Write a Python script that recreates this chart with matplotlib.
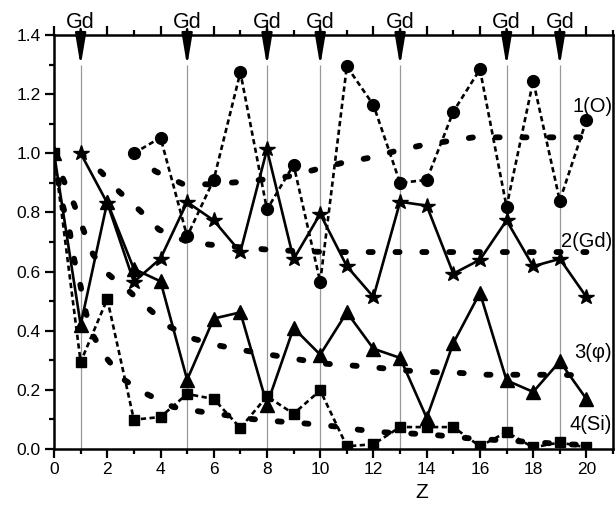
import matplotlib
matplotlib.use('Agg')
import matplotlib.pyplot as plt
from matplotlib.ticker import MultipleLocator

plt.rcParams['font.family'] = ['Liberation Sans', 'DejaVu Sans']

# data
x_o = list(range(3, 21))
y_o = [1.0, 1.053, 0.719, 0.911, 1.274, 0.81, 0.961, 0.565, 1.294, 1.163,
       0.90, 0.91, 1.141, 1.284, 0.819, 1.245, 0.84, 1.111]

x_gd = list(range(1, 21))
y_gd = [1.0, 0.832, 0.565, 0.644, 0.835, 0.773, 0.666, 1.013, 0.642, 0.795,
        0.618, 0.514, 0.836, 0.823, 0.593, 0.640, 0.773, 0.618, 0.643, 0.514]

x_phi = list(range(0, 21))
y_phi = [1.0, 0.42, 0.835, 0.609, 0.567, 0.234, 0.441, 0.462, 0.15, 0.409,
         0.319, 0.462, 0.339, 0.308, 0.105, 0.358, 0.528, 0.232, 0.193, 0.296, 0.169]

x_si = list(range(0, 21))
y_si = [1.0, 0.294, 0.507, 0.099, 0.108, 0.186, 0.169, 0.071, 0.178, 0.119,
        0.198, 0.009, 0.016, 0.074, 0.074, 0.074, 0.009, 0.057, 0.005, 0.022, 0.005]

# fitted curves (thick dotted)
fit_o_x = [3, 3.81, 4.82, 5.85, 6.83, 7.85, 8.82, 9.82, 10.8, 11.8, 12.76,
           13.76, 14.73, 15.76, 16.76, 17.77, 18.77, 19.8, 20]
fit_o_y = [1.0, 0.939, 0.897, 0.895, 0.902, 0.911, 0.922, 0.945, 0.967, 0.984,
           1.006, 1.026, 1.04, 1.054, 1.054, 1.054, 1.054, 1.054, 1.054]

fit_gd_x = [1, 1.79, 2.45, 3.23, 3.94, 4.98, 5.85, 6.9, 7.92, 8.98, 9.9,
            11, 12, 13, 14, 15, 16, 17, 18, 19, 20]
fit_gd_y = [1.0, 0.935, 0.87, 0.806, 0.742, 0.702, 0.691, 0.683, 0.675, 0.67,
            0.667, 0.666, 0.666, 0.666, 0.666, 0.666, 0.666, 0.666, 0.666, 0.666, 0.666]

fit_phi_x = [0, 0.35, 0.76, 1.1, 1.47, 2.05, 2.85, 3.6, 4.35, 5.27, 6.23, 7.23,
             8.23, 9.23, 10.23, 11.23, 12.23, 13.23, 14.23, 15.27, 16.27, 17.27,
             18.27, 19.3, 20]
fit_phi_y = [1.0, 0.911, 0.826, 0.742, 0.657, 0.59, 0.531, 0.471, 0.413, 0.372,
             0.349, 0.332, 0.317, 0.302, 0.288, 0.282, 0.274, 0.265, 0.26, 0.257,
             0.251, 0.251, 0.251, 0.25, 0.25]

fit_si_x = [0, 0.15, 0.34, 0.6, 0.76, 1.0, 1.2, 1.45, 2.0, 2.63, 3.45, 4.48,
            5.45, 6.48, 7.45, 8.45, 9.46, 10.48, 11.46, 12.46, 13.46, 14.46,
            15.46, 16.46, 17.46, 18.49, 19.49, 20]
fit_si_y = [1.0, 0.91, 0.82, 0.73, 0.64, 0.55, 0.46, 0.386, 0.304, 0.234, 0.187,
            0.142, 0.127, 0.114, 0.101, 0.093, 0.086, 0.077, 0.065, 0.056, 0.052,
            0.046, 0.037, 0.031, 0.026, 0.02, 0.015, 0.013]

gd_positions = [1, 5, 8, 10, 13, 17, 19]
series_labels = ['1(O)', '2(Gd)', '3(\u03c6)', '4(Si)']
label_y = [1.158, 0.702, 0.325, 0.082]

fig = plt.figure(figsize=(6.16, 5.05), dpi=100)
ax = fig.add_axes([0.0877, 0.111, 0.9075, 0.8196])

# grey guide lines at the Gd sites
ax.vlines(gd_positions, 0, 1.3, color='0.6', lw=0.9, zorder=1)

# fitted curves: thick round dots
fit_kw = dict(color='black', lw=4.2, dashes=(0.7, 3.9), dash_capstyle='round', zorder=2)
ax.plot(fit_o_x, fit_o_y, **fit_kw)
ax.plot(fit_gd_x, fit_gd_y, **fit_kw)
ax.plot(fit_phi_x, fit_phi_y, **fit_kw)
ax.plot(fit_si_x, fit_si_y, **fit_kw)

# data series
ax.plot(x_o, y_o, color='black', lw=1.9, dashes=(2.0, 1.3), marker='o', ms=8.5, zorder=3)
ax.plot(x_gd, y_gd, color='black', lw=1.9, marker='*', ms=11.5, zorder=3)
ax.plot(x_phi, y_phi, color='black', lw=1.9, marker='^', ms=9.5, zorder=3)
ax.plot(x_si, y_si, color='black', lw=1.9, dashes=(2.0, 1.3), marker='s', ms=7.5, zorder=3)

# Gd arrows above the plot
for xp in gd_positions:
    ax.annotate('', xy=(xp, 1.295), xytext=(xp, 1.42),
                arrowprops=dict(arrowstyle='-|>,head_length=0.95,head_width=0.16',
                                color='black', lw=1.8, shrinkA=0, shrinkB=0,
                                mutation_scale=20),
                annotation_clip=False, zorder=5)
    ax.text(xp, 1.425, 'Gd', ha='center', va='baseline', fontsize=15.5, clip_on=False)

for lab, yl in zip(series_labels, label_y):
    ax.text(20.97, yl, lab, ha='right', va='center', fontsize=14.5, zorder=6)

ax.set_xlim(0, 21)
ax.set_ylim(0, 1.4)
ax.xaxis.set_major_locator(MultipleLocator(2))
ax.xaxis.set_minor_locator(MultipleLocator(1))
ax.yaxis.set_major_locator(MultipleLocator(0.2))
ax.yaxis.set_minor_locator(MultipleLocator(0.1))
ax.set_xticks([0, 2, 4, 6, 8, 10, 12, 14, 16, 18, 20])
ax.yaxis.set_major_formatter(plt.FormatStrFormatter('%.1f'))
ax.tick_params(which='both', direction='out', width=1.6, labelsize=12.5, top=True, right=False)
ax.tick_params(which='major', length=6.5, pad=3)
ax.tick_params(which='minor', length=3.5)
for sp in ax.spines.values():
    sp.set_linewidth(1.8)

ax.text(0.658, -0.105, 'Z', transform=ax.transAxes, ha='center', va='center', fontsize=15)

fig.savefig('out.png', dpi=100)
